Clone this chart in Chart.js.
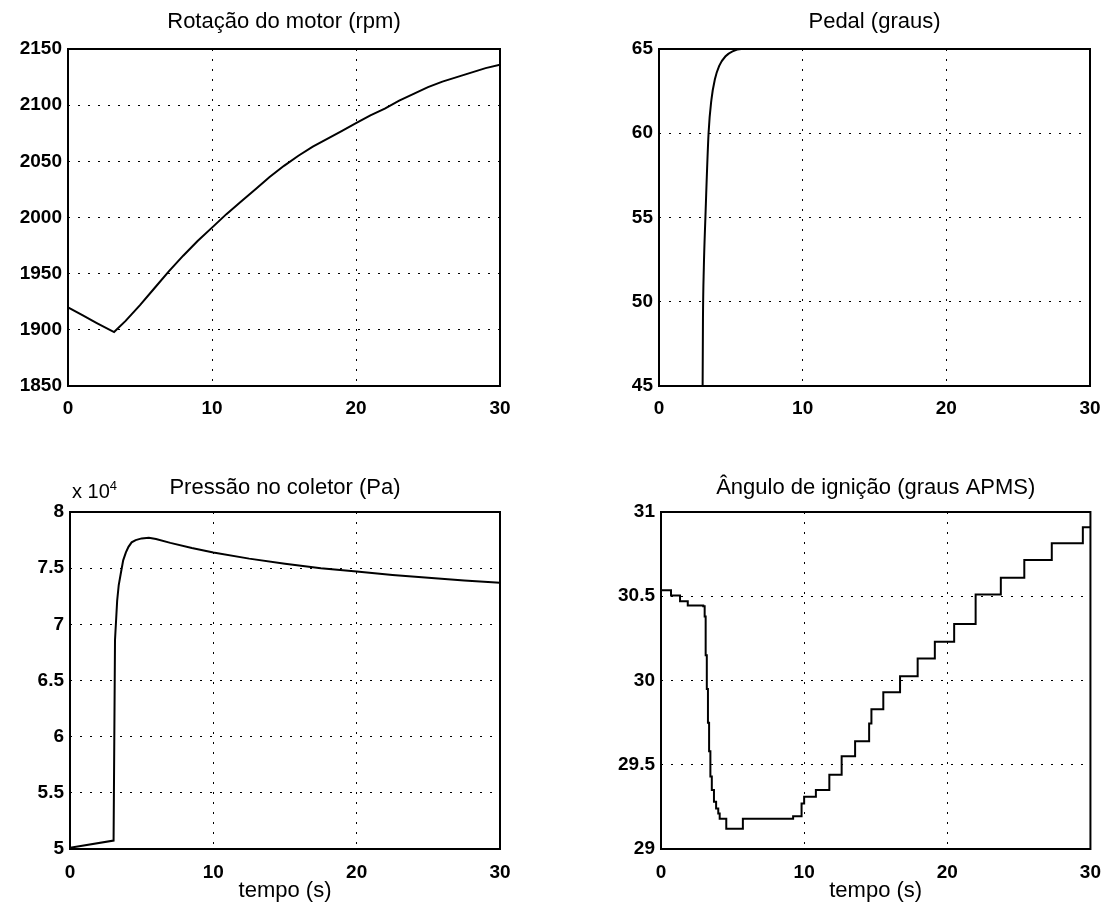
<!DOCTYPE html>
<html lang="pt">
<head>
  <meta charset="UTF-8" />
  <title>Simulação do motor</title>
  <style>
    body {
      margin: 0;
      background: #fff;
      font-family: "Liberation Sans", Arial, sans-serif;
    }
    #page {
      position: relative;
      width: 1113px;
      height: 911px;
    }
    .panel {
      position: absolute;
    }
    .exp {
      position: absolute;
      left: 72px;
      top: 478px;
      font-size: 20px;
      color: #000;
    }
    .exp sup {
      font-size: 13px;
    }
  </style>
</head>
<body>
  <div id="page">
    <div class="panel" style="left:0;top:0;width:560px;height:430px"><canvas id="rpmChart"></canvas></div>
    <div class="panel" style="left:590px;top:0;width:523px;height:430px"><canvas id="pedalChart"></canvas></div>
    <div class="panel" style="left:0;top:440px;width:560px;height:471px"><canvas id="pressChart"></canvas></div>
    <div class="panel" style="left:590px;top:440px;width:523px;height:471px"><canvas id="ignChart"></canvas></div>
    <div class="exp">x 10<sup>4</sup></div>
  </div>

  <script src="https://cdn.jsdelivr.net/npm/chart.js@4.4.1/dist/chart.umd.min.js"></script>
  <script>
    // Rotação do motor (rpm)
    const rpmTime = [0, 1, 2, 3.2, 4, 5, 6, 7, 8, 9, 10, 11, 12, 13, 14, 15, 16, 17, 18, 19, 20, 21, 22, 23, 24, 25, 26, 27, 28, 29, 30];
    const rpmValues = [1920, 1913, 1906, 1898, 1908, 1922, 1937, 1952, 1966, 1979, 1991, 2003, 2014, 2025, 2036, 2046, 2055, 2063, 2070, 2077, 2084, 2091, 2097, 2104, 2110, 2116, 2121, 2125, 2129, 2133, 2136];

    // Pedal (graus) - antes de 3 s fica abaixo da escala
    const pedalTime = [0, 3.0, 3.06, 3.12, 3.23, 3.45, 3.65, 3.89, 4.19, 4.63, 5.12, 5.74, 30];
    const pedalValues = [40, 40, 49, 52, 55, 60, 62, 63.2, 64, 64.57, 64.86, 65, 65];

    // Pressão no coletor (Pa)
    const pressTime = [0, 3.04, 3.14, 3.29, 3.4, 3.54, 3.71, 3.9, 4.08, 4.3, 4.58, 5.0, 5.5, 6, 7, 8.5, 10, 12.5, 15, 17.5, 20, 22.5, 25, 27.5, 30];
    const pressValues = [50100, 50750, 68600, 72100, 73500, 74500, 75700, 76400, 76900, 77300, 77500, 77650, 77700, 77600, 77250, 76800, 76400, 75850, 75400, 75000, 74700, 74400, 74150, 73900, 73700];

    // Ângulo de ignição (graus APMS), sinal amostrado (degraus)
    const ignTime = [0, 0.7, 1.33, 1.87, 2.95, 3.05, 3.12, 3.2, 3.28, 3.36, 3.45, 3.55, 3.7, 3.85, 4.0, 4.1, 4.56, 5.72, 9.23, 9.82, 10.0, 10.82, 11.76, 12.62, 13.56, 14.54, 14.7, 15.53, 16.7, 17.93, 19.13, 20.48, 21.98, 23.74, 25.38, 27.3, 29.47, 30];
    const ignValues = [30.535, 30.505, 30.47, 30.445, 30.44, 30.38, 30.15, 29.95, 29.75, 29.58, 29.43, 29.35, 29.28, 29.24, 29.21, 29.18, 29.12, 29.18, 29.195, 29.27, 29.31, 29.35, 29.44, 29.55, 29.64, 29.745, 29.83, 29.93, 30.025, 30.13, 30.23, 30.335, 30.51, 30.61, 30.715, 30.815, 30.91, 30.91];

    const timeTicks = { min: 0, max: 30, step: 10 };

    Chart.defaults.font.family = '"Liberation Sans", Arial, sans-serif';
    Chart.defaults.color = '#000';

    // moldura preta em volta da área do gráfico
    const frameBox = {
      id: 'frameBox',
      afterDraw(chart) {
        const { ctx, chartArea: a } = chart;
        ctx.save();
        ctx.strokeStyle = '#000';
        ctx.lineWidth = 2;
        ctx.strokeRect(a.left, a.top, a.right - a.left, a.bottom - a.top);
        ctx.restore();
      }
    };

    function toPoints(xs, ys) {
      return xs.map((x, i) => ({ x: x, y: ys[i] }));
    }

    function makeChart(id, cfg) {
      const tickFont = { size: 19, weight: 'bold' };
      const gridStyle = { color: '#000', lineWidth: 1, drawTicks: false };
      const dotted = { display: false, dash: [2, 8] };
      return new Chart(document.getElementById(id), {
        type: 'line',
        data: {
          datasets: [{
            data: toPoints(cfg.xs, cfg.ys),
            borderColor: '#000',
            borderWidth: 2,
            pointRadius: 0,
            stepped: cfg.stepped || false,
            tension: 0,
            cubicInterpolationMode: cfg.smooth ? 'monotone' : 'default'
          }]
        },
        options: {
          responsive: true,
          maintainAspectRatio: false,
          animation: false,
          layout: { padding: { left: 0, right: cfg.padRight, top: 0, bottom: 0 } },
          plugins: {
            legend: { display: false },
            tooltip: { enabled: false },
            title: {
              display: true,
              text: cfg.title,
              fullSize: false,
              font: { size: 22, weight: 'normal' },
              padding: cfg.titlePad
            }
          },
          scales: {
            x: {
              type: 'linear',
              min: timeTicks.min,
              max: timeTicks.max,
              grid: gridStyle,
              border: dotted,
              ticks: { stepSize: timeTicks.step, font: tickFont, padding: cfg.xPad, maxRotation: 0 },
              title: {
                display: !!cfg.xTitle,
                text: cfg.xTitle || '',
                font: { size: 22 },
                padding: { top: 0, bottom: 7 }
              },
              afterFit(scale) { scale.height = cfg.xHeight; }
            },
            y: {
              min: cfg.yMin,
              max: cfg.yMax,
              grid: gridStyle,
              border: dotted,
              ticks: {
                stepSize: cfg.yStep,
                font: tickFont,
                padding: 6,
                callback: cfg.yLabel || (v => v)
              },
              afterFit(scale) { scale.width = cfg.yWidth; }
            }
          }
        },
        plugins: [frameBox]
      });
    }

    makeChart('rpmChart', {
      xs: rpmTime, ys: rpmValues,
      title: 'Rotação do motor (rpm)',
      yMin: 1850, yMax: 2150, yStep: 50,
      yWidth: 68, padRight: 60, xHeight: 44, xPad: 11,
      titlePad: { top: 9, bottom: 13.6 }
    });

    makeChart('pedalChart', {
      xs: pedalTime, ys: pedalValues, smooth: true,
      title: 'Pedal (graus)',
      yMin: 45, yMax: 65, yStep: 5,
      yWidth: 69, padRight: 23, xHeight: 44, xPad: 11,
      titlePad: { top: 9, bottom: 13.6 }
    });

    makeChart('pressChart', {
      xs: pressTime, ys: pressValues,
      title: 'Pressão no coletor (Pa)',
      yMin: 50000, yMax: 80000, yStep: 5000,
      yLabel: v => v / 10000,
      yWidth: 70, padRight: 60, xHeight: 62, xPad: 12,
      xTitle: 'tempo (s)',
      titlePad: { top: 34.8, bottom: 10.8 }
    });

    makeChart('ignChart', {
      xs: ignTime, ys: ignValues, stepped: true,
      title: 'Ângulo de ignição (graus APMS)',
      yMin: 29, yMax: 31, yStep: 0.5,
      yWidth: 71, padRight: 22, xHeight: 62, xPad: 12,
      xTitle: 'tempo (s)',
      titlePad: { top: 34.8, bottom: 10.8 }
    });
  </script>
</body>
</html>
